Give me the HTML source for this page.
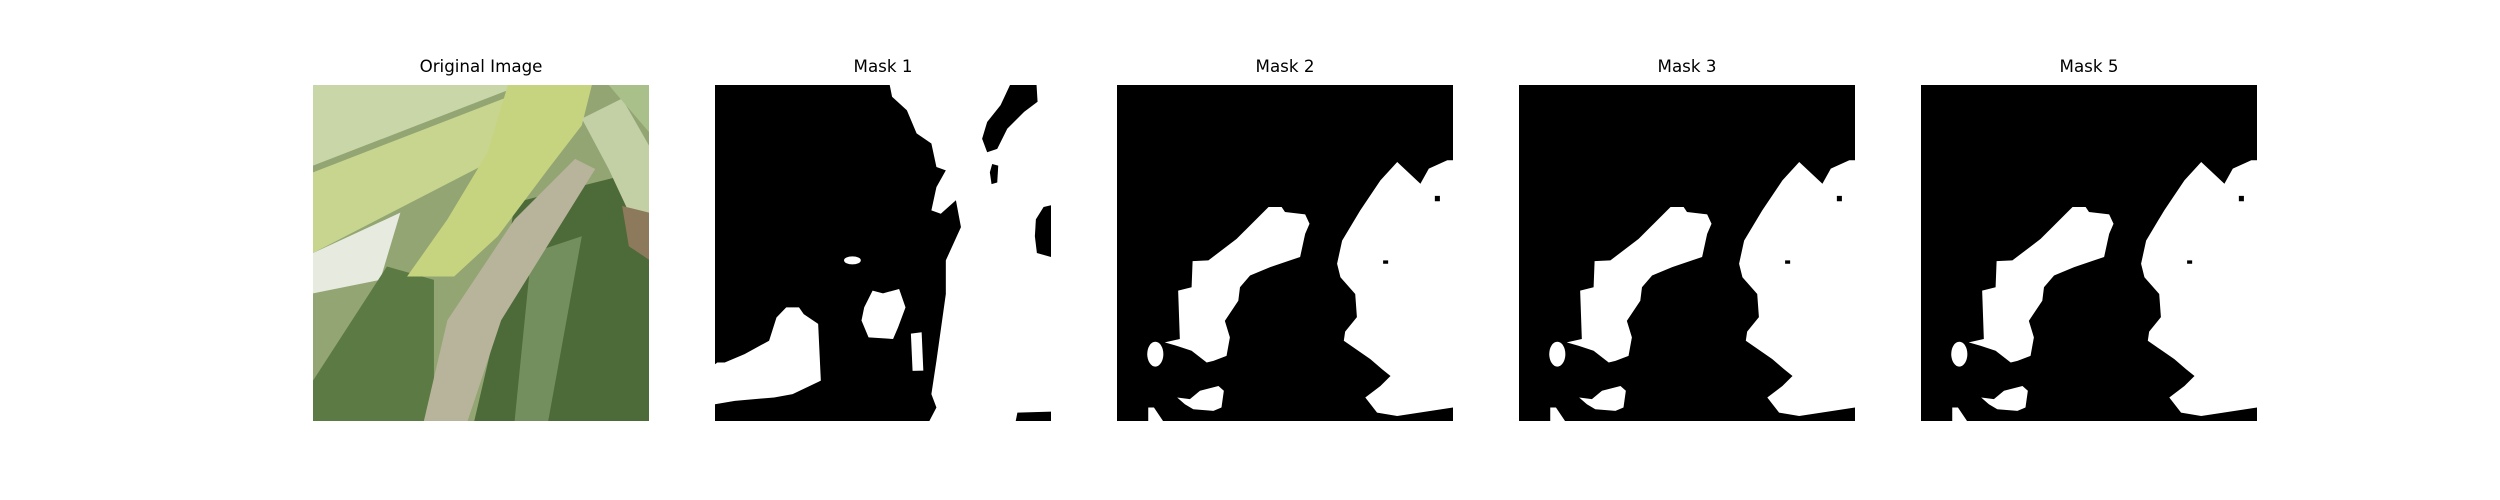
<!DOCTYPE html>
<html><head><meta charset="utf-8"><style>
html,body{margin:0;padding:0;background:#fff}
#fig{position:relative;width:2500px;height:500px;background:#fff;overflow:hidden}
.panel{position:absolute;top:85px;width:336px;height:336px}
.title{position:absolute;top:56px;width:336px;text-align:center;font-family:"DejaVu Sans","Liberation Sans",sans-serif;font-size:16.7px;color:#000;line-height:20px}
svg{display:block}
</style></head><body>
<div id="fig">
<div class="title" style="left:313px">Original Image</div>
<div class="title" style="left:715px">Mask 1</div>
<div class="title" style="left:1117px">Mask 2</div>
<div class="title" style="left:1519px">Mask 3</div>
<div class="title" style="left:1921px">Mask 5</div>

<div class="panel" style="left:313px">
<svg width="336" height="336" viewBox="0 0 100 100" preserveAspectRatio="none">
<rect width="100" height="100" fill="#93a573"/>
<polygon points="0,0 62,0 0,24" fill="#c9d6a8"/>
<polygon points="0,26 62,2 62,18 0,50" fill="#c7d58f"/>
<polygon points="0,50 26,38 20,58 0,62" fill="#e6eadf"/>
<polygon points="60,35 100,25 100,100 48,100 55,70" fill="#4d6a39"/>
<polygon points="65,50 80,45 70,100 60,100" fill="#8fa878" opacity="0.6"/>
<polygon points="0,88 22,54 36,58 36,100 0,100" fill="#5c7a44"/>
<polygon points="78,22 84,25 56,70 46,100 33,100 40,70 60,40" fill="#b8b49b"/>
<polygon points="58,0 83,0 80,12 70,25 55,45 42,57 28,57 40,40 52,20" fill="#c6d47f"/>
<polygon points="80,10 92,4 100,18 100,40 95,40 88,25" fill="#c3cfa5"/>
<polygon points="88,0 100,0 100,14" fill="#a9c08a"/>
<polygon points="92,36 100,38 100,52 94,48" fill="#8d7a5c"/>
</svg></div>

<div class="panel" style="left:715px">
<svg width="336" height="336" viewBox="0 0 100 100" preserveAspectRatio="none">
<rect width="100" height="100" fill="#000"/>
<polygon fill="#fff" points="52,0 100,0 100,100 63.8,100 65.9,96 64.4,92 65.9,82.1 68.7,62.2 68.7,52.2 73.2,42.3 71.7,34.3 67.2,38.3 64.4,37.3 65.9,30.4 68.7,25.4 65.9,24.4 64.4,17.4 60,14.4 57.1,7.5 52.7,3.5"/>
<polygon fill="#000" points="87.8,0 95.7,0 96,5 92,8 87,13 84,19 81,20 79.5,16 81,11 85,6"/>
<polygon fill="#000" points="82.5,23.5 84.3,24 84,29 82.3,29.5 81.8,26"/>
<polygon fill="#000" points="100,35.8 97.8,36.3 95.5,40 95.2,45 95.8,50 100,51.2"/>
<polygon fill="#000" points="90,97.5 100,97.2 100,100 89.5,100"/>
<polygon fill="#fff" points="0,95 5.9,94 17.6,93 23.1,92 31.5,88 30.7,71.1 26.4,68.2 25,66.2 21.2,66.2 18.3,69.2 16.1,76.1 8.8,80.1 2.9,82.6 0.7,82.6 0,83.1"/>
<polygon fill="#fff" points="46.9,61.2 50,62 54.8,60.7 56.7,66.2 54.5,72.1 53,75.6 45.7,75.1 43.6,70.1 44.4,66.2"/>
<ellipse fill="#fff" cx="40.9" cy="52.2" rx="2.5" ry="1.2"/>
<polygon fill="#fff" points="58.3,74 61.5,73.6 62,85 58.8,85.1"/>
</svg></div>

<div class="panel" style="left:1117px">
<svg width="336" height="336" viewBox="0 0 100 100" preserveAspectRatio="none">
<rect width="100" height="100" fill="#000"/>
<g fill="#fff">
<polygon points="14.2,76.6 18.7,75.6 18.2,61.2 22.2,60.2 22.5,52.4 27.2,52.2 35.6,45.8 45.1,36.3 49,36.3 50,37.8 56,38.5 57.3,41.3 56,44.3 54.5,51.2 51.5,52.2 45.6,54.2 39.6,56.7 36.6,60.2 36.1,64.2 32.1,70.2 33.6,75.1 32.6,80.6 28.7,82.1 26.7,82.6 22.2,79.1 17.7,77.6"/>
<ellipse cx="11.4" cy="80.1" rx="2.4" ry="3.7"/>
<polygon points="17.9,93 21.7,93.5 24.7,91 30.2,89.6 31.8,91 31.1,96 28.7,97 22.7,96.5 20.2,95"/>
<polygon points="9.3,96 11,96 13.7,100 9.3,100"/>
<polygon points="83.4,22.9 90.3,29.4 92.8,24.9 98.3,22.4 100,22.4 100,96 83.4,98.5 77.4,97.5 73.9,93 78.4,89.6 81.4,86.6 78.9,84.6 75.4,81.6 67.5,76.1 67.9,73.4 71.4,69.1 70.9,62.2 66.5,57.2 65.5,53.2 67,46.3 72.4,37.3 78.4,28.4"/>
</g>
<rect x="94.6" y="33" width="1.5" height="1.6" fill="#000"/>
<rect x="79.2" y="52.2" width="1.5" height="1" fill="#000"/>
</svg></div>

<div class="panel" style="left:1519px">
<svg width="336" height="336" viewBox="0 0 100 100" preserveAspectRatio="none">
<rect width="100" height="100" fill="#000"/>
<g fill="#fff">
<polygon points="14.2,76.6 18.7,75.6 18.2,61.2 22.2,60.2 22.5,52.4 27.2,52.2 35.6,45.8 45.1,36.3 49,36.3 50,37.8 56,38.5 57.3,41.3 56,44.3 54.5,51.2 51.5,52.2 45.6,54.2 39.6,56.7 36.6,60.2 36.1,64.2 32.1,70.2 33.6,75.1 32.6,80.6 28.7,82.1 26.7,82.6 22.2,79.1 17.7,77.6"/>
<ellipse cx="11.4" cy="80.1" rx="2.4" ry="3.7"/>
<polygon points="17.9,93 21.7,93.5 24.7,91 30.2,89.6 31.8,91 31.1,96 28.7,97 22.7,96.5 20.2,95"/>
<polygon points="9.3,96 11,96 13.7,100 9.3,100"/>
<polygon points="83.4,22.9 90.3,29.4 92.8,24.9 98.3,22.4 100,22.4 100,96 83.4,98.5 77.4,97.5 73.9,93 78.4,89.6 81.4,86.6 78.9,84.6 75.4,81.6 67.5,76.1 67.9,73.4 71.4,69.1 70.9,62.2 66.5,57.2 65.5,53.2 67,46.3 72.4,37.3 78.4,28.4"/>
</g>
<rect x="94.6" y="33" width="1.5" height="1.6" fill="#000"/>
<rect x="79.2" y="52.2" width="1.5" height="1" fill="#000"/>
</svg></div>

<div class="panel" style="left:1921px">
<svg width="336" height="336" viewBox="0 0 100 100" preserveAspectRatio="none">
<rect width="100" height="100" fill="#000"/>
<g fill="#fff">
<polygon points="14.2,76.6 18.7,75.6 18.2,61.2 22.2,60.2 22.5,52.4 27.2,52.2 35.6,45.8 45.1,36.3 49,36.3 50,37.8 56,38.5 57.3,41.3 56,44.3 54.5,51.2 51.5,52.2 45.6,54.2 39.6,56.7 36.6,60.2 36.1,64.2 32.1,70.2 33.6,75.1 32.6,80.6 28.7,82.1 26.7,82.6 22.2,79.1 17.7,77.6"/>
<ellipse cx="11.4" cy="80.1" rx="2.4" ry="3.7"/>
<polygon points="17.9,93 21.7,93.5 24.7,91 30.2,89.6 31.8,91 31.1,96 28.7,97 22.7,96.5 20.2,95"/>
<polygon points="9.3,96 11,96 13.7,100 9.3,100"/>
<polygon points="83.4,22.9 90.3,29.4 92.8,24.9 98.3,22.4 100,22.4 100,96 83.4,98.5 77.4,97.5 73.9,93 78.4,89.6 81.4,86.6 78.9,84.6 75.4,81.6 67.5,76.1 67.9,73.4 71.4,69.1 70.9,62.2 66.5,57.2 65.5,53.2 67,46.3 72.4,37.3 78.4,28.4"/>
</g>
<rect x="94.6" y="33" width="1.5" height="1.6" fill="#000"/>
<rect x="79.2" y="52.2" width="1.5" height="1" fill="#000"/>
</svg></div>
</div>
</body></html>
